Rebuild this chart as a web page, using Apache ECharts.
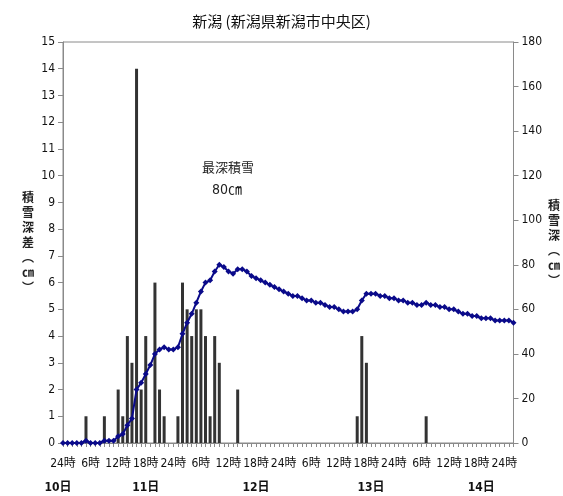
<!DOCTYPE html>
<html><head><meta charset="utf-8">
<script src="https://cdn.jsdelivr.net/npm/echarts@6/dist/echarts.min.js"></script>
<style>html,body{margin:0;padding:0;background:#fff}#c{width:563px;height:496px}</style>
</head><body><div id="c"></div>
<script>
// hourly categories: 10日24時 ... 15日2時
const startDay = 10;
const hourCount = 99;
const categories = [];
for (let i = 0; i < hourCount; i++) {
  const day = i === 0 ? startDay : startDay + Math.ceil(i / 24);
  const hour = i % 24 === 0 ? 24 : i % 24;
  categories.push(day + '日' + hour + '時');
}
// 積雪深差 (cm, left axis) – bars
const snowDiff = [
  0,0,0,0,0,1,0,0,0,1,0,0,
  2,1,4,3,14,2,4,0,6,2,1,0,
  0,1,6,5,4,5,5,4,1,4,3,0,
  0,0,2,0,0,0,0,0,0,0,0,0,
  0,0,0,0,0,0,0,0,0,0,0,0,
  0,0,0,0,1,4,3,0,0,0,0,0,
  0,0,0,0,0,0,0,1,0,0,0,0,
  0,0,0,0,0,0,0,0,0,0,0,0,
  0,0,0
];
// 積雪深 (cm, right axis) – line
const snowDepth = [
  0,0,0,0,0,1,0,0,0,1,1,1,
  3,4,8,11,24,27,31,35,40,42,43,42,
  42,43,49,54,58,63,68,72,73,77,80,79,
  77,76,78,78,77,75,74,73,72,71,70,69,
  68,67,66,66,65,64,64,63,63,62,61,61,
  60,59,59,59,60,64,67,67,67,66,66,65,
  65,64,64,63,63,62,62,63,62,62,61,61,
  60,60,59,58,58,57,57,56,56,56,55,55,
  55,55,54
];
const dayLabels = ['10日','11日','12日','13日','14日'];
const dayLabelIndex = [0, 18, 42, 67, 91];
const leftAxisMax = 15, leftAxisStep = 1;
const rightAxisMax = 180, rightAxisStep = 20;
const titleText = '新潟 (新潟県新潟市中央区)';
const noteLines = ['最深積雪', '80㎝'];

const numFont = "'Liberation Sans Narrow','DejaVu Sans Condensed','Liberation Sans','Noto Sans CJK JP',sans-serif";
const jpFont = "'Noto Sans CJK JP',sans-serif";
const axisGray = '#8a8a8a';

const chart = echarts.init(document.getElementById('c'), null, {renderer: 'canvas'});
chart.setOption({
  animation: false,
  backgroundColor: '#fff',
  title: {
    text: titleText, left: 'center', top: 9,
    textStyle: {fontFamily: jpFont, fontSize: 15, fontWeight: 'normal', color: '#111'}
  },
  grid: {left: 63, right: 45, top: 42, bottom: 53, show: true, borderColor: axisGray, borderWidth: 1, backgroundColor: 'transparent'},
  xAxis: [{
    type: 'category', data: categories, boundaryGap: false,
    axisLine: {lineStyle: {color: axisGray}},
    axisTick: {show: true, interval: 0, length: 4, lineStyle: {color: axisGray}},
    axisLabel: {
      interval: (idx) => idx % 6 === 0 && idx <= 96,
      formatter: (v) => v.split('日')[1],
      margin: 15, fontSize: 12, color: '#111', fontFamily: numFont
    },
    splitLine: {show: false}
  }, {
    type: 'category', data: categories, boundaryGap: false, position: 'bottom', offset: 30,
    axisLine: {show: false}, axisTick: {show: false},
    axisLabel: {
      interval: (idx) => dayLabelIndex.indexOf(idx) >= 0,
      formatter: (v, idx) => {
        const k = dayLabelIndex.indexOf(idx);
        return k === 0 ? '{first|' + dayLabels[k] + '}' : dayLabels[k];
      },
      rich: {first: {padding: [0, 10, 0, 0], fontSize: 12, fontWeight: 'bold', color: '#111', fontFamily: numFont}},
      margin: 9, fontSize: 12, fontWeight: 'bold', color: '#111', fontFamily: numFont
    },
    splitLine: {show: false}
  }],
  yAxis: [{
    type: 'value', min: 0, max: leftAxisMax, interval: leftAxisStep,
    name: '積\n雪\n深\n差\n︵\n㎝\n︶', nameLocation: 'middle', nameRotate: 0, nameGap: 29,
    nameTextStyle: {fontFamily: jpFont, fontSize: 12, fontWeight: 'bold', color: '#222', lineHeight: 15},
    axisLine: {show: true, lineStyle: {color: axisGray}},
    axisTick: {show: true, length: 5, lineStyle: {color: axisGray}},
    axisLabel: {fontSize: 12, color: '#111', fontFamily: numFont, margin: 8},
    splitLine: {show: false}
  }, {
    type: 'value', min: 0, max: rightAxisMax, interval: rightAxisStep, position: 'right',
    name: '積\n雪\n深\n︵\n㎝\n︶', nameLocation: 'middle', nameRotate: 0, nameGap: 31,
    nameTextStyle: {fontFamily: jpFont, fontSize: 12, fontWeight: 'bold', color: '#222', lineHeight: 15},
    axisLine: {show: true, lineStyle: {color: axisGray}},
    axisTick: {show: true, length: 5, lineStyle: {color: axisGray}},
    axisLabel: {fontSize: 12, color: '#111', fontFamily: numFont, margin: 8},
    splitLine: {show: false}
  }],
  series: [{
    type: 'bar', name: '積雪深差', data: snowDiff, xAxisIndex: 0, yAxisIndex: 0,
    barWidth: 3, itemStyle: {color: '#333'}
  }, {
    type: 'line', name: '積雪深', data: snowDepth, xAxisIndex: 0, yAxisIndex: 1,
    symbol: 'diamond', symbolSize: 6, showAllSymbol: true,
    lineStyle: {color: '#0a0a8a', width: 2}, itemStyle: {color: '#0a0a8a'}
  }],
  graphic: [{
    type: 'text', left: 202, top: 161,
    style: {text: noteLines[0], fontFamily: jpFont, fontSize: 13, fill: '#222'}
  }, {
    type: 'text', left: 212, top: 183,
    style: {text: noteLines[1], fontFamily: numFont, fontSize: 14, fill: '#222'}
  }]
});
</script></body></html>
